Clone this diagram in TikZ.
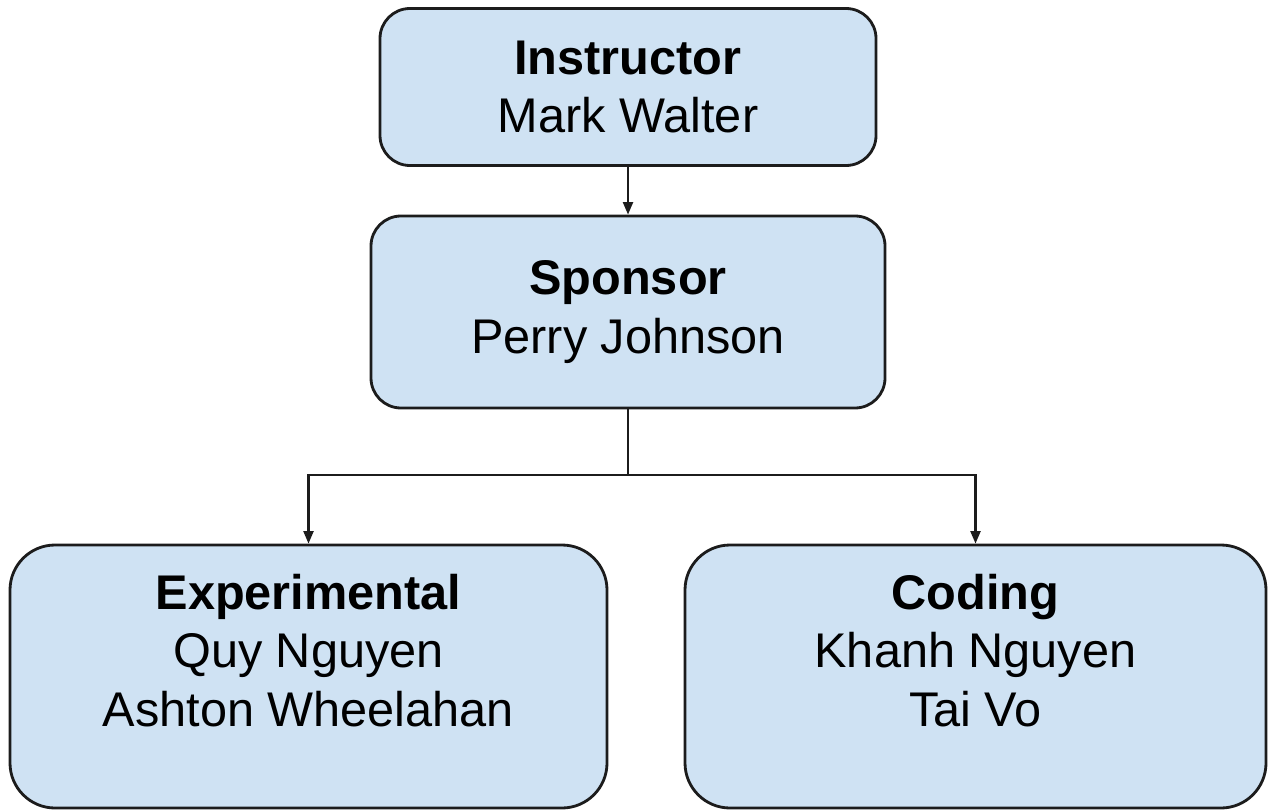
\documentclass[tikz,border=0pt]{standalone}
\usepackage{fontspec}
\setmainfont{Liberation Sans}
\usepackage{tikz}
\usetikzlibrary{positioning, arrows.meta}
\definecolor{boxfill}{HTML}{CFE2F3}
\definecolor{boxline}{HTML}{1C1C1C}

\begin{document}
\begin{tikzpicture}[
    font=\fontsize{27.7}{33.4}\selectfont,
    role/.style={draw=boxline, fill=boxfill, line width=1.6pt, align=center,
        rounded corners=0.6cm},
    team/.style={role, rounded corners=0.9cm, minimum width=11.8cm, minimum height=5.26cm},
    link/.style={draw=boxline, line width=1.2pt},
    tip/.style={-{Triangle[length=0.25cm, width=0.2cm]}}
]
    \useasboundingbox (0,0) rectangle (25.38,-16.2);

    % ===== Top of the chart =====
    \node[role, minimum width=9.92cm, minimum height=3.14cm] (instructor) at (12.56,-1.74)
        {\textbf{Instructor}\\Mark Walter};
    \node[role, minimum width=10.28cm, minimum height=3.84cm] (sponsor) at (12.56,-6.24)
        {\textbf{Sponsor}\\Perry Johnson};

    % ===== Teams =====
    \node[team, minimum width=11.94cm] (experimental) at (6.17,-13.53)
        {\textbf{Experimental}\\Quy Nguyen\\Ashton Wheelahan\\[-0.48cm]\strut};
    \node[team, minimum width=11.62cm] (coding) at (19.51,-13.53)
        {\textbf{Coding}\\Khanh Nguyen\\Tai Vo\\[-0.48cm]\strut};

    % ===== Connectors =====
    \coordinate (split) at (12.56,-9.5);
    \draw[link, tip] (instructor) -- (sponsor);
    \draw[link] (sponsor) -- (split);
    \draw[link, tip] (split) -| (experimental);
    \draw[link, tip] (split) -| (coding);

\end{tikzpicture}
\end{document}
